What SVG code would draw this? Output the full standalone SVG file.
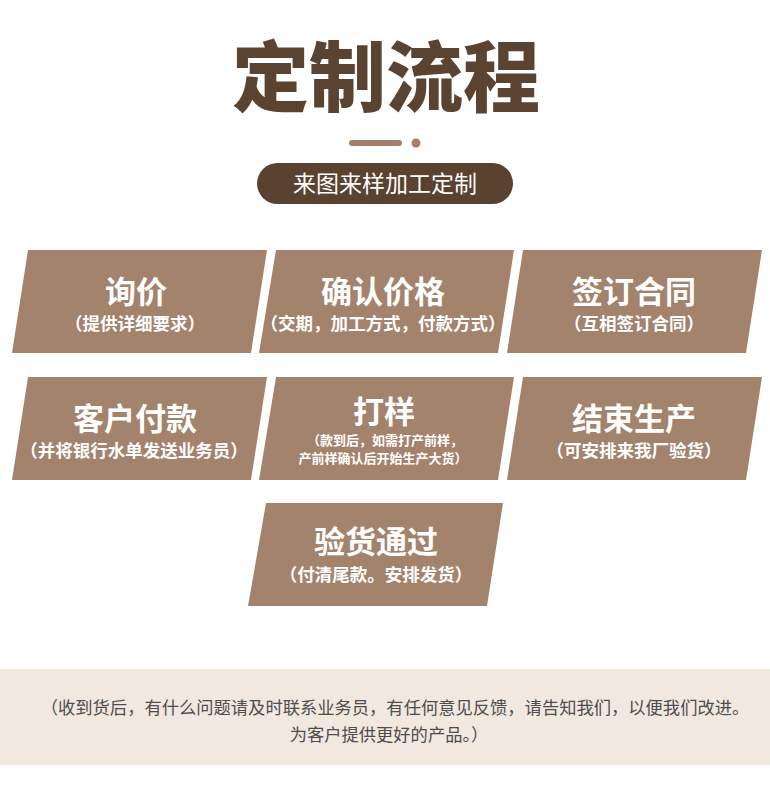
<svg xmlns="http://www.w3.org/2000/svg" width="770" height="800" viewBox="0 0 770 800">
<style>
.box{fill:#a4836d}
.t{font-family:"Noto Sans CJK SC","Noto Sans",sans-serif;fill:#ffffff;text-anchor:middle}
.h{font-size:31px;font-weight:700}
.s{font-size:17.5px;font-weight:700}
.s2{font-size:13px;font-weight:700}
.note{font-family:"Noto Sans CJK SC","Noto Sans",sans-serif;font-size:17.3px;fill:#4d4d4d;text-anchor:middle}
</style>
<rect width="770" height="800" fill="#ffffff"/>
<g id="header">
<text x="386" y="106" font-family="Noto Sans CJK SC, sans-serif" font-size="77" font-weight="900" fill="#5b4331" text-anchor="middle">定制流程</text>
<rect x="349" y="140" width="53" height="6" rx="3" fill="#a5806a"/>
<circle cx="416" cy="143" r="4.5" fill="#a5806a"/>
<rect x="257" y="163" width="256" height="41" rx="20.5" fill="#5a4230"/>
<text x="385" y="192" font-family="Noto Sans CJK SC, sans-serif" font-size="23" fill="#ffffff" text-anchor="middle">来图来样加工定制</text>
</g>
<g id="node-xunjia">
<polygon class="box" points="28,250 267,250 251,353 12,353"/>
<text class="t h" x="136" y="303">询价</text>
<text class="t s" x="135" y="330">（提供详细要求）</text>
</g>
<g id="node-queren">
<polygon class="box" points="276,250 514,250 498,353 259,353"/>
<text class="t h" x="383" y="303">确认价格</text>
<text class="t s" x="383" y="330">（交期，加工方式，付款方式）</text>
</g>
<g id="node-qianding">
<polygon class="box" points="523,250 762,250 746,353 507,353"/>
<text class="t h" x="634" y="303">签订合同</text>
<text class="t s" x="634" y="330">（互相签订合同）</text>
</g>
<g id="node-fukuan">
<polygon class="box" points="28,377 267,377 251,480 12,480"/>
<text class="t h" x="135" y="430">客户付款</text>
<text class="t s" x="134" y="457">（并将银行水单发送业务员）</text>
</g>
<g id="node-dayang">
<polygon class="box" points="276,377 514,377 498,480 259,480"/>
<text class="t h" x="384" y="423">打样</text>
<text class="t s2" x="385" y="445">（款到后，如需打产前样，</text>
<text class="t s2" x="383" y="463">产前样确认后开始生产大货）</text>
</g>
<g id="node-jieshu">
<polygon class="box" points="523,377 762,377 746,480 507,480"/>
<text class="t h" x="634" y="430">结束生产</text>
<text class="t s" x="634" y="457">（可安排来我厂验货）</text>
</g>
<g id="node-yanhuo">
<polygon class="box" points="266,503 503,503 487,606 248,606"/>
<text class="t h" x="376" y="553">验货通过</text>
<text class="t s" x="376" y="581">（付清尾款。安排发货）</text>
</g>
<g id="connectors"></g>
<g id="footer">
<rect x="0" y="669" width="770" height="96" fill="#f1e8e0"/>
<text class="note" x="395" y="714">（收到货后，有什么问题请及时联系业务员，有任何意见反馈，请告知我们，以便我们改进。</text>
<text class="note" x="389" y="741">为客户提供更好的产品。）</text>
</g>
</svg>
